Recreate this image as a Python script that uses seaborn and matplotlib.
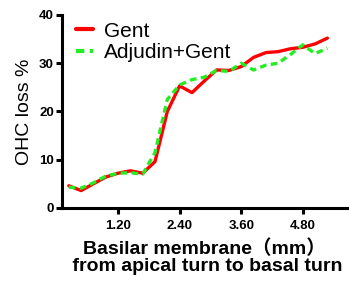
import pandas as pd
import matplotlib
matplotlib.use("Agg")
import matplotlib.pyplot as plt
import seaborn as sns

# distance along basilar membrane (mm)
distance = [0.24, 0.48, 0.72, 0.96, 1.20, 1.44, 1.68, 1.92, 2.16, 2.40, 2.64,
            2.88, 3.12, 3.36, 3.60, 3.84, 4.08, 4.32, 4.56, 4.80, 5.04, 5.28]
gent = [4.6, 3.6, 5.0, 6.4, 7.2, 7.7, 7.2, 9.6, 20.0, 25.3, 23.9,
        26.3, 28.6, 28.5, 29.3, 31.2, 32.2, 32.4, 33.0, 33.3, 34.0, 35.2]
adjudin_gent = [4.3, 4.1, 5.2, 6.6, 7.2, 7.3, 7.0, 11.5, 22.5, 25.5, 26.6,
                27.1, 28.5, 28.3, 30.0, 28.6, 29.6, 30.0, 31.8, 33.8, 32.0, 33.1]
groups = ["Gent", "Adjudin+Gent"]
xticks = [1.20, 2.40, 3.60, 4.80]
xtick_labels = ["1.20", "2.40", "3.60", "4.80"]
yticks = [0, 10, 20, 30, 40]

df = pd.DataFrame({
    "distance": distance * 2,
    "loss": gent + adjudin_gent,
    "group": [groups[0]] * len(gent) + [groups[1]] * len(adjudin_gent),
})

sns.set_style("ticks", {"axes.edgecolor": "black", "text.color": "black",
                        "xtick.color": "black", "ytick.color": "black",
                        "axes.labelcolor": "black"})
plt.rcParams['font.family'] = ['Liberation Sans', 'Noto Sans CJK SC', 'DejaVu Sans']

fig = plt.figure(figsize=(3.49, 2.88), dpi=100)
ax = fig.add_axes([0.178, 0.278, 0.816, 0.67])

sns.lineplot(data=df, x="distance", y="loss", hue="group", style="group",
             palette={"Gent": "#ff0000", "Adjudin+Gent": "#22ee22"},
             dashes={"Gent": "", "Adjudin+Gent": (2.0, 1.3)},
             linewidth=2.4, ax=ax)

ax.set_xlim(0.11, 5.66)
ax.set_ylim(0, 40)
ax.set_xticks(xticks)
ax.set_xticklabels(xtick_labels)
ax.set_yticks(yticks)
sns.despine(ax=ax)
for s in ["left", "bottom"]:
    ax.spines[s].set_linewidth(2.2)
ax.tick_params(width=2.2, length=4, labelsize=9.5, pad=2)
ax.tick_params(axis="x", pad=5)
for lab in ax.get_xticklabels() + ax.get_yticklabels():
    lab.set_fontweight("bold")

ax.set_ylabel("OHC loss %", fontsize=14, labelpad=4)
ax.set_xlabel("Basilar membrane（mm）\n from apical turn to basal turn",
              fontsize=14, fontweight="bold", labelpad=5, linespacing=1.0)

leg = ax.legend(frameon=False, fontsize=15, loc="upper left",
                bbox_to_anchor=(0.0, 1.035), handlelength=0.85,
                handletextpad=0.5, borderaxespad=0.45, borderpad=0.2,
                labelspacing=0.1)
for line in leg.get_lines():
    line.set_linewidth(3.0)

fig.savefig("out.png", dpi=100)
